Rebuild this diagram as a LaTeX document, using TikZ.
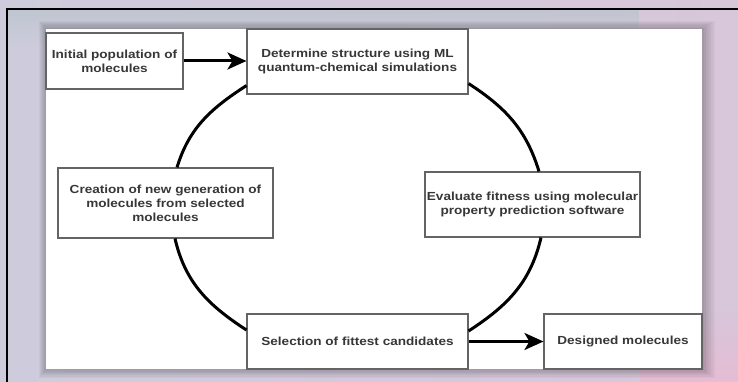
\documentclass[tikz,border=0pt]{standalone}
\usepackage{fontspec}
\setmainfont{Liberation Sans}[FakeStretch=1.16]
\usetikzlibrary{arrows.meta,calc,fadings}
\definecolor{txt}{RGB}{55,55,55}
\definecolor{boxline}{RGB}{100,100,100}
\definecolor{bgleft}{RGB}{206,204,220}
\definecolor{bgright}{RGB}{216,198,218}
\definecolor{bgtop}{RGB}{188,196,206}
\definecolor{bgpink}{RGB}{235,185,210}
\tikzset{
  box/.style={draw=boxline, line width=1.1pt, fill=white, inner sep=0pt, align=center,
    font=\bfseries\fontsize{11.7}{14}\selectfont, text=txt},
  flow/.style={line width=3pt, black},
  arrowflow/.style={flow, -{Stealth[length=19pt,width=17pt,inset=5pt]}},
  frameline/.style={line width=2.6pt, black}
}
\begin{document}
\begin{tikzpicture}[x=1pt,y=1pt]
\useasboundingbox (0,0) rectangle (738,382);
% background
\shade[left color=bgleft, right color=bgright] (0,0) rectangle (738,382);
\fill[bgtop, opacity=0.8, path fading=south] (7,335) rectangle (640,373);
\fill[bgpink, opacity=0.7, path fading=north] (640,0) rectangle (738,70);
% panel shadow
\foreach \i in {1,...,7}{
  \fill[black, opacity=0.035] (46-\i,13-\i*1.3) rectangle (702+\i*1.8,353+\i*1.2);
}
% panel
\fill[white] (46,13) rectangle (702,353);
% frame
\draw[frameline] (7,0) -- (7,373) -- (738,373);
% boxes
\node[box, minimum width=137pt, minimum height=56pt] (init) at (114.5,321) {Initial population of\\molecules};
\node[box, minimum width=221pt, minimum height=65pt] (det) at (357.5,320.5) {Determine structure using ML\\quantum-chemical simulations};
\node[box, minimum width=215pt, minimum height=70pt] (cre) at (165.5,179) {Creation of new generation of\\molecules from selected\\molecules};
\node[box, minimum width=215pt, minimum height=65pt] (eva) at (532.5,177.5) {Evaluate fitness using molecular\\property prediction software};
\node[box, minimum width=221pt, minimum height=55pt] (sel) at (357.5,40.5) {Selection of fittest candidates};
\node[box, minimum width=158pt, minimum height=55pt] (des) at (623,40.5) {Designed molecules};
% arrows
\draw[arrowflow] (init.east) -- (init.east -| det.west);
\draw[arrowflow] (sel.east) -- (des.west);
% cycle arcs
\draw[flow] ($(det.south west)+(0,9)$) to[out=213,in=73] ($(cre.north)+(11.5,0)$);
\draw[flow] ($(cre.south)+(9.5,0)$) to[out=283,in=147] ($(sel.west)+(0,11.5)$);
\draw[flow] ($(det.south east)+(0,11)$) to[out=327,in=107] ($(eva.north)+(6.5,0)$);
\draw[flow] ($(eva.south)+(8.5,0)$) to[out=257,in=33] ($(sel.east)+(0,10.5)$);
\end{tikzpicture}
\end{document}
